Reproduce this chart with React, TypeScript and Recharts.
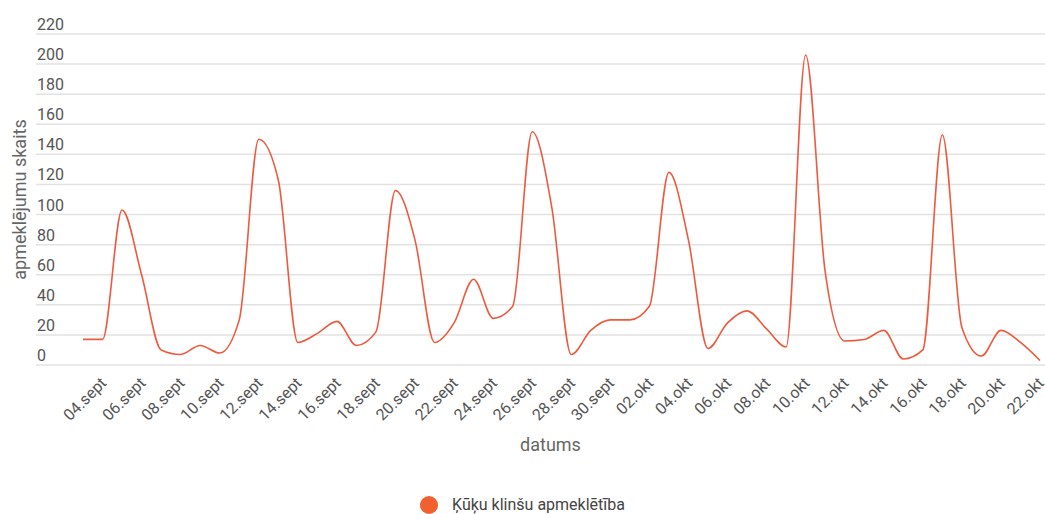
import React from "react";
import { LineChart, Line, XAxis, YAxis, CartesianGrid, Legend, Label } from "recharts";

const dates = [
  "03.sept", "04.sept", "05.sept", "06.sept", "07.sept", "08.sept", "09.sept", "10.sept", "11.sept", "12.sept",
  "13.sept", "14.sept", "15.sept", "16.sept", "17.sept", "18.sept", "19.sept", "20.sept", "21.sept", "22.sept",
  "23.sept", "24.sept", "25.sept", "26.sept", "27.sept", "28.sept", "29.sept", "30.sept", "01.okt", "02.okt",
  "03.okt", "04.okt", "05.okt", "06.okt", "07.okt", "08.okt", "09.okt", "10.okt", "11.okt", "12.okt",
  "13.okt", "14.okt", "15.okt", "16.okt", "17.okt", "18.okt", "19.okt", "20.okt", "21.okt", "22.okt",
];

const visits = [
  17, 17, 103, 60, 10, 7, 13, 8, 30, 150,
  123, 15, 21, 29, 13, 22, 116, 83, 15, 28,
  57, 31, 39, 155, 105, 7, 23, 30, 30, 39,
  128, 83, 11, 28, 36, 24, 12, 206, 62, 16,
  17, 23, 4, 10, 153, 25, 6, 23, 15, 3,
];

const yTicks = [0, 20, 40, 60, 80, 100, 120, 140, 160, 180, 200, 220];

const seriesName = "Ķūķu klinšu apmeklētība";
const xTitle = "datums";
const yTitle = "apmeklējumu skaits";

const data = dates.map((d, i) => ({ date: d, value: visits[i] }));

const FONT = "Roboto, 'Noto Sans', sans-serif";
const LINE_COLOR = "#ee5a3e";
const LEGEND_COLOR = "#f3602f";

const XTick = (props: any) => {
  const { x, y, payload, index } = props;
  if (index % 2 === 0) return <g />;
  const ax = x + 5;
  const ay = y + 19;
  return (
    <text
      x={ax}
      y={ay}
      transform={`rotate(-45, ${ax}, ${ay})`}
      textAnchor="end"
      fill="#555"
      fontSize={16}
      fontFamily={FONT}
    >
      {payload.value}
    </text>
  );
};

const YTick = (props: any) => {
  const { x, y, payload } = props;
  return (
    <text x={x + 1} y={y - 4} textAnchor="start" fill="#555" fontSize={16} fontFamily={FONT}>
      {payload.value}
    </text>
  );
};

const LegendContent = (props: any) => {
  const items = props.payload || [];
  return (
    <div style={{ display: "flex", justifyContent: "center", alignItems: "center", height: 18 }}>
      {items.map((it: any) => (
        <div key={it.value} style={{ display: "flex", alignItems: "center" }}>
          <span
            style={{
              display: "inline-block",
              width: 18,
              height: 18,
              borderRadius: 9,
              background: LEGEND_COLOR,
              marginRight: 14,
            }}
          />
          <span style={{ fontFamily: FONT, fontSize: 16, color: "#444", lineHeight: "18px" }}>{it.value}</span>
        </div>
      ))}
    </div>
  );
};

export default function App() {
  return (
    <div style={{ position: "absolute", left: 0, top: 0, width: 1045, height: 514, background: "#fff" }}>
      <LineChart width={1045} height={514} data={data} margin={{ top: 34, right: 0, left: 0, bottom: 0 }}>
        <CartesianGrid vertical={false} stroke="#e2e2e2" strokeWidth={1.5} />
        <XAxis
          dataKey="date"
          interval={0}
          tick={<XTick />}
          tickLine={false}
          axisLine={false}
          tickSize={0}
          tickMargin={0}
          height={131}
          padding={{ left: 47, right: 5 }}
        >
          <Label
            content={(p: any) => {
              const vb = p.viewBox;
              return (
                <text
                  x={vb.x + vb.width / 2 + 10}
                  y={vb.y + 86}
                  textAnchor="middle"
                  fill="#666"
                  fontSize={18}
                  fontFamily={FONT}
                >
                  {xTitle}
                </text>
              );
            }}
          />
        </XAxis>
        <YAxis
          domain={[0, 220]}
          ticks={yTicks}
          width={36}
          tick={<YTick />}
          tickLine={false}
          axisLine={false}
          tickSize={0}
          tickMargin={0}
        >
          <Label
            content={(p: any) => {
              const vb = p.viewBox;
              const cx = 19;
              const cy = vb.y + vb.height / 2;
              return (
                <text
                  x={cx}
                  y={cy}
                  transform={`rotate(-90, ${cx}, ${cy})`}
                  textAnchor="middle"
                  dominantBaseline="central"
                  fill="#666"
                  fontSize={18}
                  fontFamily={FONT}
                >
                  {yTitle}
                </text>
              );
            }}
          />
        </YAxis>
        <Legend verticalAlign="bottom" align="center" height={18} content={<LegendContent />} />
        <Line
          type="monotone"
          dataKey="value"
          name={seriesName}
          stroke={LINE_COLOR}
          strokeWidth={1.6}
          dot={false}
          activeDot={false}
          isAnimationActive={false}
        />
      </LineChart>
    </div>
  );
}
